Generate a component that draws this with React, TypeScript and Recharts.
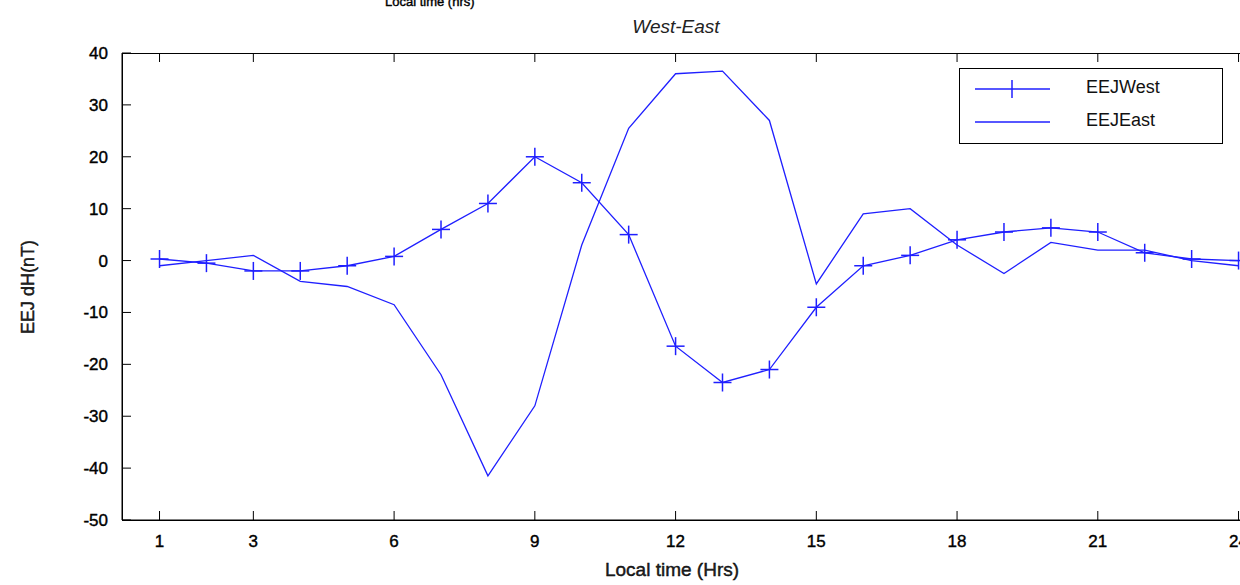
import React from "react";
import { LineChart, Line, XAxis, YAxis } from "recharts";

const hours = [1,2,3,4,5,6,7,8,9,10,11,12,13,14,15,16,17,18,19,20,21,22,23,24];
const eejWest = [0.3,-0.5,-2,-2,-1,0.8,6,11,20,15,5,-16.5,-23.5,-21,-9,-1,1,4,5.5,6.3,5.5,1.5,0.3,0];
const eejEast = [-1,0,1,-4,-5,-8.5,-22,-41.5,-28,3,25.5,36,36.5,27,-4.5,9,10,3,-2.5,3.5,2,2,0,-1];
const xTicks = [1,3,6,9,12,15,18,21,24];
const yTicks = [-50,-40,-30,-20,-10,0,10,20,30,40];

const data = hours.map((h, i) => ({ h, west: eejWest[i], east: eejEast[i] }));
const C = "#1f1fff";
const font = "'Liberation Sans', Arial, sans-serif";
const thick = "0.4px #000";

const Cross = (p: any) => {
  const { cx, cy } = p;
  if (cx == null || cy == null) return null;
  return (
    <g stroke={C} strokeWidth={1.5}>
      <line x1={cx - 9} y1={cy} x2={cx + 9} y2={cy} />
      <line x1={cx} y1={cy - 9} x2={cx} y2={cy + 9} />
    </g>
  );
};

const XTick = (p: any) => {
  const { x, payload } = p;
  return (
    <g>
      <line x1={x} y1={520} x2={x} y2={511} stroke="#000" />
      <line x1={x} y1={53} x2={x} y2={62} stroke="#000" />
      <text x={x} y={547} textAnchor="middle" fontSize={17} fontFamily={font} fill="#000" stroke="#000" strokeWidth={0.4}>{payload.value}</text>
    </g>
  );
};
const YTick = (p: any) => {
  const { y, payload } = p;
  return (
    <g>
      <line x1={122} y1={y} x2={131} y2={y} stroke="#000" />
      <text x={108} y={y + 6} textAnchor="end" fontSize={17} fontFamily={font} fill="#000" stroke="#000" strokeWidth={0.4}>{payload.value}</text>
    </g>
  );
};

export default function App() {
  return (
    <div style={{ position: "fixed", left: 0, top: 0, width: 1240, height: 585, overflow: "hidden", background: "#fff", fontFamily: font }}>
      <div style={{ position: "absolute", left: 385, top: -6, fontSize: 13, WebkitTextStroke: thick, color: "#000" }}>Local time (hrs)</div>
      <div style={{ position: "absolute", left: 0, width: 1352, textAlign: "center", top: 16, fontSize: 19, fontStyle: "italic", color: "#222" }}>West-East</div>
      <div style={{ position: "absolute", left: 122, top: 53, width: 1200, height: 466, border: "1px solid #000" }} />
      <div style={{ position: "absolute", left: 0, top: 559, width: 1344, textAlign: "center", fontSize: 19, WebkitTextStroke: thick, color: "#222" }}>Local time (Hrs)</div>
      <div style={{ position: "absolute", left: 28, top: 287, transform: "translate(-50%,-50%) rotate(-90deg)", whiteSpace: "nowrap", fontSize: 18, WebkitTextStroke: thick, color: "#222" }}>EEJ dH(nT)</div>
      <LineChart width={1270} height={585} data={data} margin={{ top: 53, right: 8, bottom: 25, left: 62 }} style={{ position: "absolute", left: 0, top: 0 }}>
        <XAxis dataKey="h" type="number" domain={[0.2, 24.5]} ticks={xTicks} tickLine={false}
          axisLine={{ stroke: "#000" }} height={40} tick={<XTick />} />
        <YAxis type="number" domain={[-50, 40]} ticks={yTicks} tickLine={false} width={60}
          axisLine={{ stroke: "#000" }} tick={<YTick />} />
        <Line dataKey="west" stroke={C} strokeWidth={1.3} dot={<Cross />} isAnimationActive={false} />
        <Line dataKey="east" stroke={C} strokeWidth={1.3} dot={false} isAnimationActive={false} />
      </LineChart>
      <div style={{ position: "absolute", left: 959, top: 68, width: 262, height: 74, border: "1px solid #000", background: "#fff", fontSize: 18, color: "#111" }}>
        <svg width={100} height={74} style={{ position: "absolute", left: 0, top: 0 }}>
          <line x1={15} y1={20} x2={90} y2={20} stroke={C} strokeWidth={1.3} />
          <line x1={52} y1={11} x2={52} y2={29} stroke={C} strokeWidth={1.5} />
          <line x1={15} y1={53} x2={90} y2={53} stroke={C} strokeWidth={1.3} />
        </svg>
        <div style={{ position: "absolute", left: 126, top: 8 }}>EEJWest</div>
        <div style={{ position: "absolute", left: 126, top: 41 }}>EEJEast</div>
      </div>
    </div>
  );
}
